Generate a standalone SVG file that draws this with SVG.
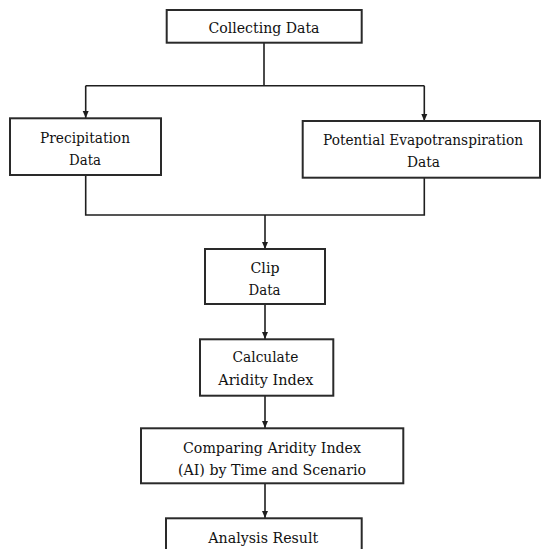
<svg xmlns="http://www.w3.org/2000/svg" width="541" height="549" viewBox="0 0 541 549">
  <style>
    .box { fill: #ffffff; stroke: #2a2a2a; stroke-width: 2; }
    .lbl { font-family: 'DejaVu Serif', 'Liberation Serif', serif; font-size: 15px; fill: #111111; text-anchor: middle; }
    .sm { font-size: 14px; }
    .con { fill: none; stroke: #1e1e1e; stroke-width: 1.6; }
  </style>
  <defs>
    <marker id="arr" markerWidth="8" markerHeight="8" refX="7" refY="4" orient="auto" markerUnits="userSpaceOnUse">
      <path d="M0,1 L7,4 L0,7 Z" fill="#1e1e1e"/>
    </marker>
  </defs>
  <rect width="541" height="549" fill="#ffffff"/>

  <g id="connectors">
    <path class="con" d="M264,43 V85.7"/>
    <path class="con" d="M85.7,85.7 H424.3"/>
    <path class="con" d="M85.7,85.7 V118" marker-end="url(#arr)"/>
    <path class="con" d="M424.3,85.7 V121" marker-end="url(#arr)"/>
    <path class="con" d="M85.7,175 V215 H424.3 V177.7"/>
    <path class="con" d="M265,215 V249" marker-end="url(#arr)"/>
    <path class="con" d="M265,304 V339" marker-end="url(#arr)"/>
    <path class="con" d="M265,395.7 V428" marker-end="url(#arr)"/>
    <path class="con" d="M265,483.3 V518" marker-end="url(#arr)"/>
  </g>

  <g id="collecting">
    <rect class="box" x="166.7" y="10" width="195" height="32.7"/>
    <text class="lbl" x="264" y="33.3" textLength="111" lengthAdjust="spacingAndGlyphs">Collecting Data</text>
  </g>

  <g id="precipitation">
    <rect class="box" x="10" y="118.3" width="151" height="56.7"/>
    <text class="lbl" x="85" y="142.7" textLength="90" lengthAdjust="spacingAndGlyphs">Precipitation</text>
    <text class="lbl" x="85" y="165" textLength="32" lengthAdjust="spacingAndGlyphs">Data</text>
  </g>

  <g id="pet">
    <rect class="box" x="302.7" y="121" width="237.3" height="56.7"/>
    <text class="lbl sm" x="423" y="145" textLength="200" lengthAdjust="spacingAndGlyphs">Potential Evapotranspiration</text>
    <text class="lbl" x="423.5" y="166.7" textLength="33" lengthAdjust="spacingAndGlyphs">Data</text>
  </g>

  <g id="clip">
    <rect class="box" x="205" y="249" width="120" height="55"/>
    <text class="lbl" x="265" y="272.7" textLength="29" lengthAdjust="spacingAndGlyphs">Clip</text>
    <text class="lbl" x="264.5" y="295" textLength="32" lengthAdjust="spacingAndGlyphs">Data</text>
  </g>

  <g id="calculate">
    <rect class="box" x="200" y="339.3" width="133.3" height="56.4"/>
    <text class="lbl" x="265.5" y="361.7" textLength="66" lengthAdjust="spacingAndGlyphs">Calculate</text>
    <text class="lbl" x="265.8" y="385" textLength="95" lengthAdjust="spacingAndGlyphs">Aridity Index</text>
  </g>

  <g id="comparing">
    <rect class="box" x="141" y="428.3" width="262.3" height="55"/>
    <text class="lbl" x="272" y="453.3" textLength="178" lengthAdjust="spacingAndGlyphs">Comparing Aridity Index</text>
    <text class="lbl" x="272" y="475" textLength="188" lengthAdjust="spacingAndGlyphs">(AI) by Time and Scenario</text>
  </g>

  <g id="analysis">
    <rect class="box" x="166" y="518.3" width="195.7" height="40"/>
    <text class="lbl" x="263.3" y="543.3" textLength="110" lengthAdjust="spacingAndGlyphs">Analysis Result</text>
  </g>
</svg>
